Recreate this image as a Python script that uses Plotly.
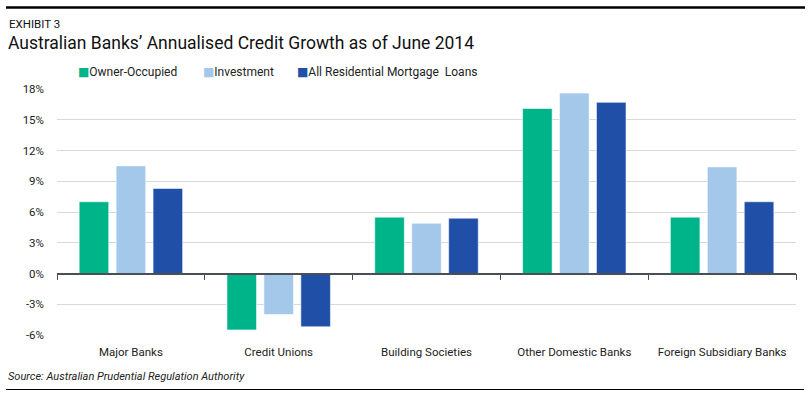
import plotly.graph_objects as go

categories = ["Major Banks", "Credit Unions", "Building Societies", "Other Domestic Banks", "Foreign Subsidiary Banks"]
owner_occupied = [7.0, -5.5, 5.5, 16.1, 5.5]
investment = [10.5, -4.0, 4.9, 17.6, 10.4]
all_residential = [8.3, -5.2, 5.4, 16.7, 7.0]
series_names = ["Owner-Occupied", "Investment", "All Residential Mortgage  Loans"]
colors = ["#00B48A", "#A3C8EA", "#1F4FA6"]
y_ticks = [-6, -3, 0, 3, 6, 9, 12, 15, 18]

W, H = 810, 394
ML, MR, MT, MB = 57, 14, 89, 59
PH = H - MT - MB
PW = W - ML - MR

def py(px):
    return (H - MB - px) / PH

def pxx(px):
    return (px - ML) / PW

FONT = "Roboto"

fig = go.Figure()
for name, vals, col in zip(series_names, [owner_occupied, investment, all_residential], colors):
    fig.add_trace(go.Bar(
        x=categories, y=vals, name=name, showlegend=False,
        marker=dict(color=col, line=dict(color="rgba(255,255,255,0.55)", width=1)),
    ))

# invisible trace to activate the boundary axis
fig.add_trace(go.Scatter(x=[-0.5, 4.5], y=[0, 0], xaxis="x2", mode="lines",
                         line=dict(width=0), showlegend=False, hoverinfo="skip"))

# legend drawn as text entries: coloured square + series name
legend_x = [76, 201, 295]
legend_anns = [
    dict(text=f'<span style="color:{col};font-family:DejaVu Sans;font-size:12px">■</span>{name}',
         xref="paper", yref="paper", x=pxx(lx), y=py(72), xanchor="left", yanchor="middle",
         showarrow=False, font=dict(size=12, color="#222222", family=FONT))
    for name, col, lx in zip(series_names, colors, legend_x)
]

fig.update_layout(
    width=W, height=H,
    margin=dict(l=ML, r=MR, t=MT, b=MB, autoexpand=False),
    paper_bgcolor="white", plot_bgcolor="white",
    barmode="group", bargap=0.25, bargroupgap=0.2,
    font=dict(family=FONT, color="#222222", size=11),
    showlegend=False,
    xaxis=dict(type="category", showgrid=False, showline=False, ticks="",
               tickfont=dict(size=11.5, color="#222222"), ticklabelstandoff=8,
               zeroline=False),
    xaxis2=dict(overlaying="x", anchor="free", position=6 / 24, range=[-0.5, 4.5],
                tickvals=[-0.5, 0.5, 1.5, 2.5, 3.5, 4.5], ticks="outside", ticklen=6,
                tickwidth=1.2, tickcolor="#4A4F55", showline=True, linecolor="#4A4F55",
                linewidth=1.5, showticklabels=False, showgrid=False, zeroline=False),
    yaxis=dict(range=[-6, 18], tickvals=y_ticks, ticktext=[f"{v}%" for v in y_ticks],
               showgrid=True, gridcolor="#D9D9D9", gridwidth=1, zeroline=False,
               showline=False, ticks="", ticklabelstandoff=12,
               tickfont=dict(size=11.5, color="#222222")),
    annotations=[
        dict(text="EXHIBIT 3", xref="paper", yref="paper", x=pxx(7),
             y=py(24), xanchor="left", yanchor="middle", showarrow=False,
             font=dict(size=11.5, color="#111111", family=FONT)),
        dict(text="Australian Banks’ Annualised Credit Growth as of June 2014", xref="paper",
             yref="paper", x=pxx(6), y=py(43), xanchor="left",
             yanchor="middle", showarrow=False,
             font=dict(size=17.5, color="#111111", family=FONT)),
        dict(text="<i>Source: Australian Prudential Regulation Authority</i>", xref="paper",
             yref="paper", x=pxx(6), y=py(376), xanchor="left",
             yanchor="middle", showarrow=False,
             font=dict(size=11, color="#222222", family=FONT)),
    ] + legend_anns,
    shapes=[
        dict(type="line", xref="paper", yref="paper", x0=pxx(6),
             x1=pxx(805), y0=py(7.5), y1=py(7.5),
             line=dict(color="black", width=2.5)),
        dict(type="line", xref="paper", yref="paper", x0=pxx(6),
             x1=pxx(804), y0=py(389.5), y1=py(389.5),
             line=dict(color="black", width=1)),
    ],
)

fig.write_html("out.html", config={"displayModeBar": False},
               post_script="document.body.style.margin='0';")
